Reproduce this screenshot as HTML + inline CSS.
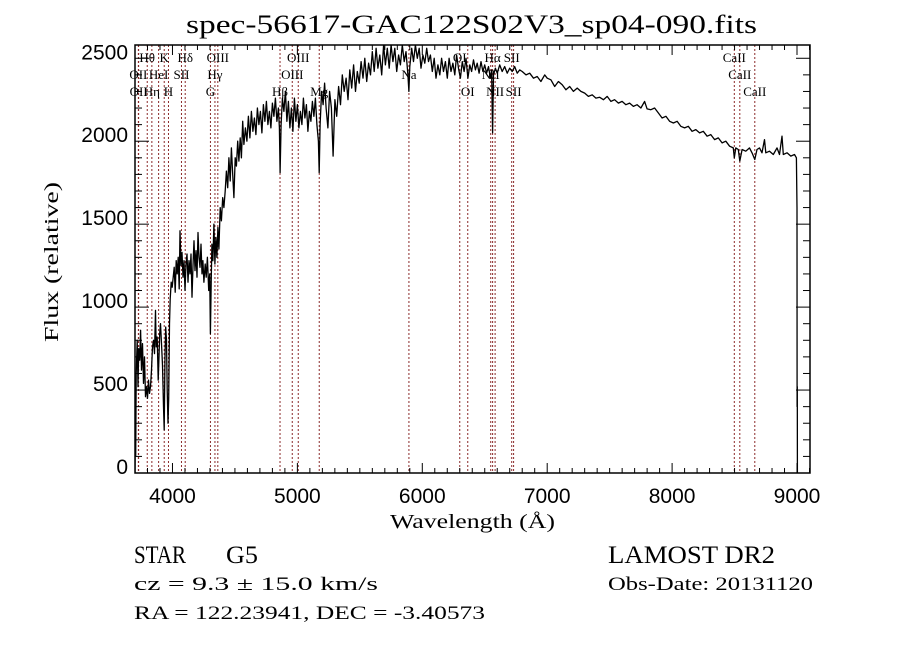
<!DOCTYPE html>
<html><head><meta charset="utf-8"><title>spec</title>
<style>html,body{margin:0;padding:0;background:#fff}svg{display:block}</style></head>
<body>
<svg id="chart" width="900" height="649" xmlns="http://www.w3.org/2000/svg" font-family="Liberation Serif, serif">
<rect width="900" height="649" fill="#fff"/>
<text x="186" y="33" font-size="26" textLength="571" lengthAdjust="spacingAndGlyphs">spec-56617-GAC122S02V3_sp04-090.fits</text>
<defs><clipPath id="pc"><rect x="135" y="45" width="675" height="428"/></clipPath></defs>
<g id="lines" clip-path="url(#pc)"></g>
<g id="labels"></g>
<path id="spec" clip-path="url(#pc)" fill="none" stroke="#000" stroke-width="1.3" stroke-linejoin="round"/>
<g id="axes"></g>
<rect x="135" y="45" width="675" height="428" fill="none" stroke="#000" stroke-width="1.5"/>
<text x="390" y="528" font-size="20" textLength="165" lengthAdjust="spacingAndGlyphs">Wavelength (Å)</text>
<text transform="translate(58,342) rotate(-90)" font-size="20" textLength="160" lengthAdjust="spacingAndGlyphs">Flux (relative)</text>
<text x="134" y="563" font-size="25" textLength="52" lengthAdjust="spacingAndGlyphs">STAR</text>
<text x="226" y="563" font-size="25" textLength="32" lengthAdjust="spacingAndGlyphs">G5</text>
<text x="608" y="563" font-size="25" textLength="167" lengthAdjust="spacingAndGlyphs">LAMOST DR2</text>
<text x="134" y="590" font-size="19" textLength="244" lengthAdjust="spacingAndGlyphs">cz = 9.3 ± 15.0 km/s</text>
<text x="608" y="590" font-size="19" textLength="205" lengthAdjust="spacingAndGlyphs">Obs-Date: 20131120</text>
<text x="134" y="619" font-size="19" textLength="351" lengthAdjust="spacingAndGlyphs">RA = 122.23941, DEC =  -3.40573</text>
</svg>
<script>
const wavelengths=[3700,3703,3706,3710,3718,3724,3730,3738,3745,3752,3760,3768,3776,3784,3792,3800,3808,3816,3824,3832,3840,3848,3856,3864,3870,3878,3886,3892,3898,3904,3912,3920,3928,3934,3940,3946,3952,3958,3964,3970,3976,3982,3990,3998,4006,4014,4022,4030,4038,4046,4054,4060,4068,4076,4084,4092,4100,4108,4116,4124,4132,4140,4148,4156,4164,4172,4180,4188,4196,4204,4212,4220,4228,4236,4244,4252,4262,4270,4280,4290,4298,4304,4310,4316,4324,4332,4340,4348,4356,4364,4372,4382,4392,4402,4412,4422,4432,4442,4452,4462,4472,4482,4492,4502,4512,4522,4532,4542,4552,4562,4572,4584,4596,4608,4620,4632,4644,4656,4668,4680,4692,4704,4716,4728,4740,4752,4764,4776,4788,4800,4812,4824,4836,4848,4856,4862,4870,4880,4892,4904,4916,4928,4940,4952,4964,4976,4988,5000,5012,5024,5036,5048,5060,5072,5084,5096,5108,5120,5132,5144,5156,5168,5175,5182,5194,5206,5218,5230,5244,5258,5272,5286,5300,5315,5330,5345,5360,5375,5390,5405,5420,5435,5450,5465,5480,5495,5510,5525,5540,5555,5570,5585,5600,5615,5630,5645,5660,5675,5690,5705,5720,5735,5750,5765,5780,5795,5810,5825,5840,5855,5870,5885,5893,5900,5915,5930,5945,5960,5975,5990,6005,6020,6035,6050,6065,6080,6095,6110,6125,6140,6155,6170,6185,6200,6215,6230,6245,6260,6275,6290,6305,6320,6335,6350,6365,6380,6395,6410,6425,6440,6455,6470,6485,6500,6515,6530,6545,6555,6563,6570,6585,6600,6620,6640,6660,6680,6700,6720,6740,6760,6780,6800,6830,6860,6890,6920,6950,6980,7000,7030,7060,7090,7120,7150,7180,7210,7240,7270,7300,7330,7360,7390,7420,7450,7480,7510,7540,7570,7600,7630,7660,7690,7720,7750,7780,7800,7830,7860,7890,7920,7950,7980,8010,8040,8070,8100,8130,8160,8190,8220,8250,8280,8310,8340,8370,8400,8430,8460,8490,8498,8510,8530,8542,8560,8590,8620,8640,8662,8680,8700,8720,8740,8750,8780,8810,8840,8860,8880,8890,8920,8950,8980,8995,9000,9001,9002,9003];
const fluxes=[0,380,100,600,800,520,750,680,860,620,780,540,700,460,520,450,560,480,520,620,760,800,720,980,760,820,560,700,840,900,780,650,400,260,700,880,800,500,300,450,900,1050,1150,1120,1180,1240,1090,1280,1200,1300,1110,1460,1250,1330,1180,1280,1100,1260,1320,1150,1280,1200,1320,1060,1250,1400,1220,1340,1180,1450,1300,1240,1380,1200,1280,1150,1260,1180,1300,1100,1200,840,1150,1380,1280,1500,1260,1420,1300,1480,1350,1600,1520,1660,1600,1700,1820,1720,1900,1760,1960,1800,1660,1900,1850,2000,1880,2020,1900,2120,1980,2080,2000,2150,2020,2180,2060,2140,2040,2200,2100,2180,2050,2220,2120,2240,2100,2180,2080,2230,2150,2260,2120,2200,2080,1810,2100,2260,2180,2300,2120,2240,2080,2200,2060,2260,2120,2220,2080,2180,2100,2260,2140,2220,2060,2180,2120,2240,2150,2260,2100,2000,1810,2100,2300,2220,2350,2200,2080,2300,2200,1910,2250,2150,2330,2220,2400,2300,2380,2250,2430,2320,2460,2300,2420,2350,2480,2380,2500,2360,2470,2400,2540,2420,2560,2440,2520,2400,2580,2460,2560,2440,2580,2480,2560,2420,2520,2460,2580,2480,2540,2400,2300,2450,2560,2480,2580,2500,2560,2440,2520,2470,2560,2480,2520,2420,2500,2380,2460,2400,2500,2420,2480,2380,2500,2420,2470,2400,2520,2440,2380,2480,2420,2500,2380,2460,2420,2490,2430,2470,2410,2480,2420,2460,2410,2450,2380,2430,2050,2400,2440,2410,2460,2420,2450,2410,2440,2420,2450,2410,2430,2420,2400,2410,2380,2390,2360,2400,2380,2370,2330,2360,2340,2310,2330,2300,2320,2300,2290,2270,2280,2260,2265,2250,2270,2240,2250,2230,2240,2220,2230,2210,2220,2200,2240,2195,2190,2200,2170,2140,2150,2120,2110,2120,2090,2080,2090,2060,2070,2050,2060,2030,2040,2010,2020,1990,2000,1970,1960,1900,1960,1950,1880,1950,1940,1960,1930,1890,1950,1960,1930,2010,1930,1940,1920,1960,1920,2030,1920,1930,1910,1920,1900,1600,400,520,0];
const lineWaves=[3727,3729,3798,3835,3889,3934,3968,4072,4102,4304,4340,4363,4861,4959,5007,5175,5893,6300,6364,6548,6563,6583,6716,6731,8498,8542,8662];
const labelTexts=["OII","OII","Hθ","Hη","HeI","K","H","SII","Hδ","G","Hγ","OIII","Hβ","OIII","OIII","Mg","Na","OI","OI","NII","Hα","NII","SII","SII","CaII","CaII","CaII"];
const labelRows=[2,3,1,3,2,1,3,2,1,3,2,1,3,2,1,3,2,1,3,2,1,3,1,3,1,2,3];
const xTicks=[4000,5000,6000,7000,8000,9000];
const yTicks=[0,500,1000,1500,2000,2500];
const X0=135,X1=810,Y0=473,Y1=45,WMIN=3700,WMAX=9104,FMIN=0,FMAX=2580;
const xs=w=>X0+(w-WMIN)/(WMAX-WMIN)*(X1-X0);
const ys=f=>Y0-(f-FMIN)/(FMAX-FMIN)*(Y0-Y1);
const NS='http://www.w3.org/2000/svg';
function mk(tag,attrs,parent){const e=document.createElementNS(NS,tag);for(const k in attrs)e.setAttribute(k,attrs[k]);parent.appendChild(e);return e;}
let d='';
wavelengths.forEach((w,i)=>{d+=(i?'L':'M')+xs(w).toFixed(1)+','+ys(fluxes[i]).toFixed(1);});
document.getElementById('spec').setAttribute('d',d);
const gl=document.getElementById('lines'),glab=document.getElementById('labels'),ga=document.getElementById('axes');
const rowY={1:62,2:79,3:96};
lineWaves.forEach((w,i)=>{
  const l=mk('line',{x1:xs(w),x2:xs(w),y1:Y1,y2:Y0,stroke:'#8b2a2a','stroke-width':1,'stroke-dasharray':'2,2'},gl);
  
  
  const t=mk('text',{x:xs(w),y:rowY[labelRows[i]],'font-size':13,'text-anchor':'middle',fill:'#000'},glab);
  t.textContent=labelTexts[i];
  
  
});
for(let w=3800;w<=9100;w+=100){
  const major=w%1000===0,len=major?10:5;
  const a=mk('line',{x1:xs(w),x2:xs(w),y1:Y0,y2:Y0-len,stroke:'#000'},ga);
  
  
  const b=mk('line',{x1:xs(w),x2:xs(w),y1:Y1,y2:Y1+len,stroke:'#000'},ga);
  
  
}
for(let f=100;f<=2500;f+=100){
  const major=f%500===0,len=major?14:7;
  const a=mk('line',{x1:X0,x2:X0+len,y1:ys(f),y2:ys(f),stroke:'#000'},ga);
  
  
  const b=mk('line',{x1:X1,x2:X1-len,y1:ys(f),y2:ys(f),stroke:'#000'},ga);
  
  
}
xTicks.forEach(w=>{
  const t=mk('text',{x:xs(w),y:Y0+30,'font-size':21,'text-anchor':'middle','font-family':'Liberation Sans, sans-serif'},ga);
  t.textContent=w;
  
  
});
yTicks.forEach(f=>{
  const t=mk('text',{x:128,y:ys(f)+1,'font-size':21,'text-anchor':'end','font-family':'Liberation Sans, sans-serif'},ga);
  t.textContent=f;
  
  
});
</script>
</body></html>
